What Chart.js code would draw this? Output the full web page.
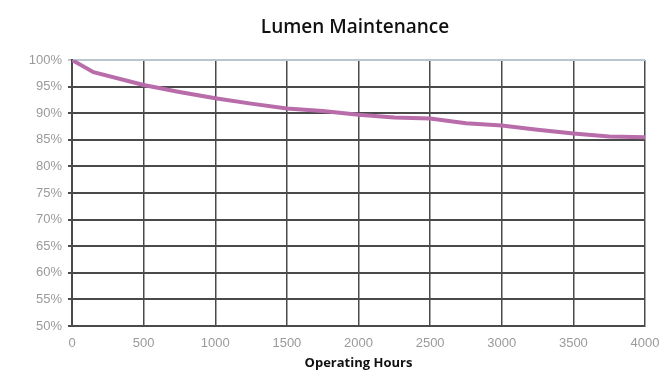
<!DOCTYPE html>
<html>
<head>
<meta charset="utf-8">
<script src="https://cdn.jsdelivr.net/npm/chart.js@4"></script>
<style>
    html, body { margin: 0; padding: 0; background: #ffffff; }
    #wrap { width: 661px; height: 371px; }
</style>
</head>
<body>
<div id="wrap"><canvas id="lumen-chart" width="661" height="371"></canvas></div>
<script>
// operating hours vs. lumen maintenance (%)
const hours = [0, 150, 500, 750, 1000, 1250, 1500, 1750, 2000, 2250, 2500, 2750, 3000, 3250, 3500, 3750, 4000];
const lumenPct = [100, 97.7, 95.3, 94.0, 92.8, 91.8, 90.9, 90.4, 89.7, 89.2, 89.0, 88.1, 87.7, 86.9, 86.2, 85.6, 85.5];

const hourTicks = [0, 500, 1000, 1500, 2000, 2500, 3000, 3500, 4000];
const pctTicks = [50, 55, 60, 65, 70, 75, 80, 85, 90, 95, 100];

const chartTitle = "Lumen Maintenance";
const tickFont = { family: "Liberation Sans", size: 13 };

const points = hours.map((h, i) => ({ x: h, y: lumenPct[i] }));

// heading sits a little right of the canvas centre, so draw it by hand
const headingPlugin = {
    id: "heading",
    afterDraw(chart) {
        const ctx = chart.ctx;
        ctx.save();
        ctx.font = "600 19px 'Open Sans'";
        ctx.fillStyle = "#111";
        ctx.textAlign = "center";
        ctx.textBaseline = "middle";
        ctx.fillText(chartTitle, 355, 28);
        ctx.restore();
    },
};

new Chart(document.getElementById("lumen-chart"), {
    type: "line",
    data: {
        datasets: [{
            label: chartTitle,
            data: points,
            borderColor: "rgb(184, 108, 170)",
            borderWidth: 4,
            pointRadius: 0,
            tension: 0,
            fill: false,
        }],
    },
    plugins: [headingPlugin],
    options: {
        responsive: false,
        animation: false,
        layout: { padding: { left: 0, right: 16, top: 60, bottom: 0 } },
        plugins: {
            legend: { display: false },
            tooltip: { enabled: false },
            title: { display: false },
        },
        scales: {
            x: {
                type: "linear",
                min: 0,
                max: 4000,
                afterBuildTicks: (scale) => {
                    scale.ticks = hourTicks.map((v) => ({ value: v }));
                },
                afterFit: (scale) => {
                    scale.height = 45;
                    scale.paddingRight = 0;
                },
                grid: {
                    color: "#4a4a4a",
                    lineWidth: 1.5,
                    drawTicks: false,
                },
                border: { color: "#4a4a4a", width: 2 },
                ticks: {
                    color: "#9a9a9a",
                    font: tickFont,
                    padding: 10,
                    maxRotation: 0,
                    callback: (v) => String(v),
                },
                title: {
                    display: true,
                    text: "Operating Hours",
                    color: "#111",
                    font: { family: "Open Sans", size: 13, weight: "700" },
                    padding: { top: 0, bottom: 0 },
                },
            },
            y: {
                min: 50,
                max: 100,
                afterBuildTicks: (scale) => {
                    scale.ticks = pctTicks.map((v) => ({ value: v }));
                },
                afterFit: (scale) => { scale.width = 72; },
                grid: {
                    color: (ctx) => (ctx.tick && ctx.tick.value === 100 ? "#b9c6cf" : "#4a4a4a"),
                    lineWidth: 2,
                    tickLength: 4,
                },
                border: { color: "#4a4a4a", width: 2 },
                ticks: {
                    color: "#9a9a9a",
                    font: tickFont,
                    padding: 6,
                    callback: (v) => v + "%",
                },
            },
        },
    },
});
</script>
</body>
</html>
